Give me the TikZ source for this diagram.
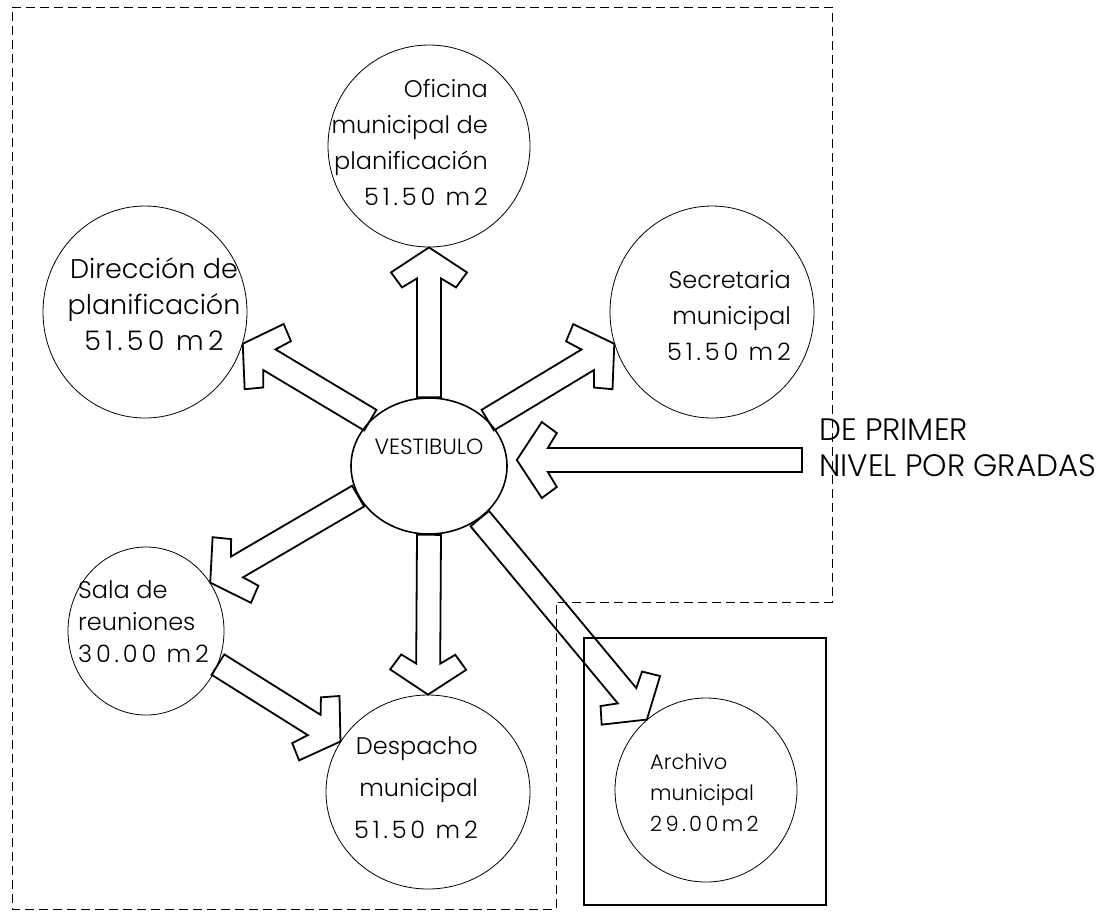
\documentclass[tikz,border=0pt]{standalone}
\usepackage{fontspec}
\IfFontExistsTF{Poppins Light}{\newfontfamily\cadfont{Poppins Light}}{\newfontfamily\cadfont{Poppins}}
\newcommand\widen[1]{{\addfontfeature{LetterSpace=16}#1}}
\usetikzlibrary{calc,shapes.geometric}
\tikzset{
  room/.style={draw, ellipse, line width=0.8pt, inner sep=0pt},
  hall/.style={draw, ellipse, line width=1.6pt, inner sep=0pt},
  barrow/.style={draw, line width=1.8pt, line join=miter},
  frame/.style={draw, line width=1pt, dash pattern=on 9pt off 5pt},
  lbl/.style={inner sep=0pt, text=black},
}
\newcommand\blockarrow[2]{%
  \draw[barrow]
   ($(#1)!12pt!90:(#2)$) --
   ($(#2)!31pt!(#1)!12pt!90:(#2)$) --
   ($(#2)!40pt!(#1)!27pt!90:(#2)$) --
   ($(#2)!25pt!(#1)!38pt!90:(#2)$) --
   (#2) --
   ($(#2)!25pt!(#1)!38pt!-90:(#2)$) --
   ($(#2)!40pt!(#1)!27pt!-90:(#2)$) --
   ($(#2)!31pt!(#1)!12pt!-90:(#2)$) --
   ($(#1)!12pt!-90:(#2)$) -- cycle;}
\begin{document}
\begin{tikzpicture}[x=1pt,y=-1pt]
\useasboundingbox (0,0) rectangle (1099,914);
\fill[white] (0,0) rectangle (1099,914);
% dashed outline
\draw[frame] (12,7) -- (832,7) -- (832,602) -- (556,602) -- (556,909) -- (12,909) -- cycle;
% archive box
\draw[line width=1.1pt] (584,638) rectangle (826,905);
% rooms
\node[room, minimum width=202pt, minimum height=202pt] (ofi) at (429,146) {};
\node[room, minimum width=204pt, minimum height=212pt] (dir) at (145,312) {};
\node[room, minimum width=204pt, minimum height=212pt] (sec) at (712,312) {};
\node[hall, minimum width=156pt, minimum height=136pt] (v) at (429,466) {};
\node[room, minimum width=156pt, minimum height=168pt] (sala) at (146,631) {};
\node[room, minimum width=204pt, minimum height=194pt] (desp) at (428,792) {};
\node[room, minimum width=182pt, minimum height=184pt] (arch) at (706,790) {};
% labels
\node[lbl, font=\cadfont\fontsize{24}{36}\selectfont, align=right, anchor=east] (tofi) at (488,142) {Oficina\\municipal de\\planificación\\\widen{51.50 m2}};
\node[lbl, font=\cadfont\fontsize{27}{36}\selectfont, align=center] (tdir) at (154,304) {Dirección de\\planificación\\\widen{51.50 m2}};
\node[lbl, font=\cadfont\fontsize{24}{36}\selectfont, align=right, anchor=east] (tsec) at (791,316) {Secretaria\\municipal\\\widen{51.50 m2}};
\node[lbl, font=\cadfont\fontsize{24}{42}\selectfont, align=right, anchor=east] (tdesp) at (478,788) {Despacho\\municipal\\\widen{51.50 m2}};
\node[lbl, font=\cadfont\fontsize{24}{32}\selectfont, align=left, anchor=west] (tsala) at (78,622) {Sala de\\reuniones\\\widen{30.00 m2}};
\node[lbl, font=\cadfont\fontsize{21}{31}\selectfont, align=left, anchor=west] (tarch) at (650,793) {Archivo\\municipal\\\widen{29.00m2}};
\node[lbl, font=\cadfont\fontsize{22}{24}\selectfont] (tv) at (429,447) {VESTIBULO};
\node[lbl, font=\cadfont\fontsize{31}{36}\selectfont, align=left, anchor=west] (tstairs) at (819,448) {DE PRIMER\\NIVEL POR GRADAS};
% connectors
\coordinate (stairs) at (802,460);
\coordinate (vin) at ($(v.east)+(9,-6)$);
\blockarrow{v.north}{ofi.south}
\blockarrow{v.142}{dir.-18}
\blockarrow{v.38}{sec.198}
\blockarrow{stairs}{vin}
\blockarrow{v.203}{sala.37}
\blockarrow{v.south}{desp.north}
\blockarrow{v.-46}{arch.130}
\blockarrow{sala.-25}{desp.150}
\end{tikzpicture}
\end{document}
